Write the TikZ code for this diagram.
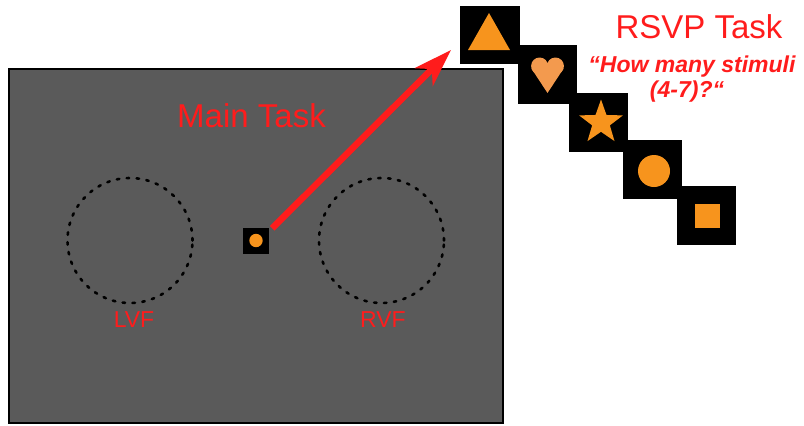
\documentclass[tikz,border=0pt]{standalone}
\usepackage{fontspec}
\setmainfont{Liberation Sans}
\usetikzlibrary{arrows.meta,calc}
\definecolor{bggray}{HTML}{5A5A5A}
\definecolor{lblred}{HTML}{FF1C1C}
\definecolor{stimorange}{HTML}{F7941D}
\definecolor{heartorange}{HTML}{F39A4E}
\tikzset{
  stimbox/.style={rectangle, fill=black, minimum width=59pt, minimum height=59pt, inner sep=0pt},
  fixbox/.style={rectangle, fill=black, minimum size=26pt, inner sep=0pt},
  vfcircle/.style={draw=black, line width=2.6pt, dash pattern=on 2.5pt off 7.4pt, line cap=round},
  bigred/.style={text=lblred, font=\fontsize{33}{38}\selectfont, anchor=base, inner sep=0pt},
  vflabel/.style={text=lblred, font=\fontsize{23}{26}\selectfont, anchor=base, inner sep=0pt},
  question/.style={text=lblred, font=\fontsize{23}{26}\selectfont\bfseries\itshape, anchor=base, inner sep=0pt},
  redarrow/.style={draw=lblred, line width=6.5pt, -{Stealth[length=38pt, width=25pt, inset=11pt]}},
}
\begin{document}
\begin{tikzpicture}[x=1pt, y=-1pt]
\useasboundingbox (0,0) rectangle (804,426);
% screen
\node[draw=black, line width=1.6pt, fill=bggray, rectangle, inner sep=0pt,
      minimum width=494pt, minimum height=354pt] (screen) at (256,246) {};
% visual field circles
\draw[vfcircle] (130,240.5) circle (62.5pt);
\draw[vfcircle] (381.5,240.5) circle (62.5pt);
\node[vflabel] (lvf) at (134,327) {LVF};
\node[vflabel] (rvf) at (383,327) {RVF};
% main task label
\node[bigred] (main) at (251.5,127) {Main Task};
% fixation
\node[fixbox] (fix) at (256,240.5) {};
\fill[stimorange] (fix.center) circle (6.7pt);
% RSVP stream
\node[stimbox, minimum width=60pt, minimum height=58pt] (s1) at (490,35) {};
\node[stimbox] (s2) at (547.5,74.5) {};
\node[stimbox] (s3) at (598.5,122.5) {};
\node[stimbox] (s4) at (652,169.5) {};
\node[stimbox] (s5) at (706,215.5) {};
% triangle
\fill[stimorange] (468,50) -- (510,50) -- (489,13) -- cycle;
% heart
\fill[heartorange] (539.6,66) circle (8.5pt);
\fill[heartorange] (555.4,66) circle (8.5pt);
\fill[heartorange] (531.4,68.5) -- (547.5,93) -- (563.6,68.5) -- (547.5,63) -- cycle;
% star
\fill[stimorange] (601,122.5) ++(-90:23)
  \foreach \k in {1,...,9} {
    -- ($(601,122.5)+({-90+36*\k}:{ifthenelse(mod(\k,2)==1,9.3,23)})$)
  } -- cycle;
% circle
\fill[stimorange] (654,171) circle (16pt);
% square
\fill[stimorange] (694.5,203.5) rectangle (719.5,228);
% texts
\node[bigred] (rsvp) at (699,38) {RSVP Task};
\node[question] (q1) at (692,72) {“How many stimuli};
\node[question] (q2) at (687,97) {(4-7)?“};
% arrow
\coordinate (tip) at (451,50);
\draw[redarrow] ([shift={(3pt,-1pt)}]fix.north east) -- (tip);
\end{tikzpicture}
\end{document}
